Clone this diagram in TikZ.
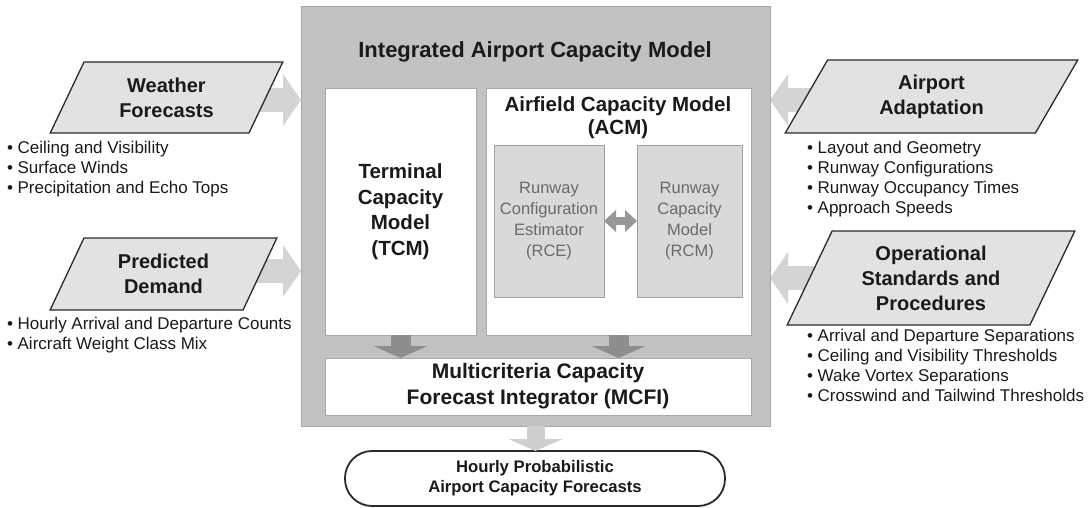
\documentclass[tikz,border=0pt]{standalone}
\usepackage{fontspec}
\setmainfont{Liberation Sans}
\usetikzlibrary{shapes.geometric,arrows.meta,calc}
\pgfdeclarelayer{bg}
\pgfdeclarelayer{canvas}
\pgfsetlayers{canvas,bg,main}
\definecolor{outergray}{HTML}{C2C2C2}
\definecolor{outerline}{HTML}{A6A6A6}
\definecolor{wline}{HTML}{A8A8A8}
\definecolor{gline}{HTML}{A0A0A0}
\definecolor{rgray}{HTML}{D9D9D9}
\definecolor{rtext}{HTML}{6A6A6A}
\definecolor{pline}{HTML}{2A2A2A}
\definecolor{pfill}{HTML}{E2E2E2}
\definecolor{txt}{HTML}{1A1A1A}
\definecolor{inarr}{HTML}{D4D4D4}
\definecolor{darr}{HTML}{8E8E8E}
\definecolor{oarr}{HTML}{CFCFCF}
\definecolor{dbl}{HTML}{979797}
\begin{document}
\begin{tikzpicture}[x=1pt,y=-1pt,
  every node/.style={inner sep=0pt,outer sep=0pt},
  outerbox/.style={draw=outerline,fill=outergray,line width=1pt},
  whitebox/.style={draw=wline,fill=white,line width=0.8pt},
  greybox/.style={draw=gline,fill=rgray,line width=0.8pt,text=rtext,align=center,font=\fontsize{16.5}{20.7}\selectfont},
  para/.style={trapezium,trapezium left angle=64,trapezium right angle=116,trapezium stretches=true,draw=pline,fill=pfill,line width=1.3pt,text=txt,align=center,font=\bfseries\fontsize{20}{25}\selectfont},
  blist/.style={anchor=north west,align=left,text=txt,font=\fontsize{17}{20}\selectfont},
  btitle/.style={text=txt,align=center,font=\bfseries\fontsize{20.5}{25.5}\selectfont},
  inarrow/.style={draw=inarr,line width=24pt,-{Triangle[width=52pt,length=18pt,line width=0pt]}},
  downarrow/.style={draw=darr,line width=20pt,-{Triangle[width=54pt,length=12pt,line width=0pt]}},
  outarrow/.style={draw=oarr,line width=18pt,-{Triangle[width=54pt,length=12pt,line width=0pt]}},
  dblarrow/.style={draw=dbl,line width=8pt,{Triangle[width=22pt,length=12pt,line width=0pt]}-{Triangle[width=22pt,length=12pt,line width=0pt]}},
]
\begin{pgfonlayer}{canvas}
\fill[white] (0,0) rectangle (1089,508);
\end{pgfonlayer}
\useasboundingbox (0,0) rectangle (1089,508);

% central model
\node[outerbox,minimum width=469pt,minimum height=419pt] (outer) at (535.5,216.5) {};
\node[btitle,font=\bfseries\fontsize{22}{26}\selectfont] (title) at (535,52) {Integrated Airport Capacity Model};
\node[whitebox,btitle,minimum width=151pt,minimum height=247pt] (tcm) at (400.5,211.5) {Terminal\\Capacity\\Model\\(TCM)};
\node[whitebox,minimum width=265pt,minimum height=247pt] (acm) at (618.5,211.5) {};
\node[btitle,font=\bfseries\fontsize{20.5}{23}\selectfont] (acmt) at (618,117.5) {Airfield Capacity Model\\(ACM)};
\node[greybox,minimum width=110pt,minimum height=152pt] (rce) at (549,221) {Runway\\Configuration\\Estimator\\(RCE)};
\node[greybox,minimum width=105pt,minimum height=152pt] (rcm) at (689.5,221) {Runway\\Capacity\\Model\\(RCM)};
\node[whitebox,btitle,minimum width=426pt,minimum height=57pt,font=\bfseries\fontsize{21}{26}\selectfont] (mcfi) at (538,386.5) {Multicriteria Capacity\\Forecast Integrator (MCFI)};
\node[draw=pline,line width=1.8pt,rounded corners=27pt,fill=white,minimum width=380pt,minimum height=55pt,text=txt,align=center,font=\bfseries\fontsize{16.7}{20}\selectfont] (out) at (535,478.5) {Hourly Probabilistic\\Airport Capacity Forecasts};

% inputs
\node[para,minimum width=233pt,minimum height=71pt] (wf) at (166.5,97.5) {Weather\\Forecasts};
\node[para,minimum width=227pt,minimum height=72pt] (pd) at (163.5,274) {Predicted\\Demand};
\node[para,minimum width=293pt,minimum height=73pt] (aa) at (931.5,96.5) {Airport\\Adaptation};
\node[para,minimum width=288pt,minimum height=94pt] (os) at (931,278) {Operational\\Standards and\\Procedures};

\node[blist] (wfl) at (7,141) {• Ceiling and Visibility\\• Surface Winds\\• Precipitation and Echo Tops};
\node[blist] (pdl) at (7,317) {• Hourly Arrival and Departure Counts\\• Aircraft Weight Class Mix};
\node[blist] (aal) at (807,141) {• Layout and Geometry\\• Runway Configurations\\• Runway Occupancy Times\\• Approach Speeds};
\node[blist] (osl) at (807,329) {• Arrival and Departure Separations\\• Ceiling and Visibility Thresholds\\• Wake Vortex Separations\\• Crosswind and Tailwind Thresholds};

% connectors
\begin{pgfonlayer}{bg}
\draw[inarrow] ($(wf.center)+(0,2.5)$) -- ($(wf.center -| outer.west)+(0,2.5)$);
\draw[inarrow] ($(pd.center)+(0,-3)$) -- ($(pd.center -| outer.west)+(0,-3)$);
\draw[inarrow] ($(aa.center)+(0,3.5)$) -- ($(aa.center -| outer.east)+(0,3.5)$);
\draw[inarrow] (os.center) -- (os.center -| outer.east);
\end{pgfonlayer}
\draw[downarrow] (tcm.south) -- (tcm.south |- mcfi.north);
\draw[downarrow] (acm.south) -- (acm.south |- mcfi.north);
\draw[outarrow] (outer.south) -- (outer.south |- out.north);
\draw[dblarrow] (rce.east) -- (rcm.west);
\end{tikzpicture}
\end{document}
